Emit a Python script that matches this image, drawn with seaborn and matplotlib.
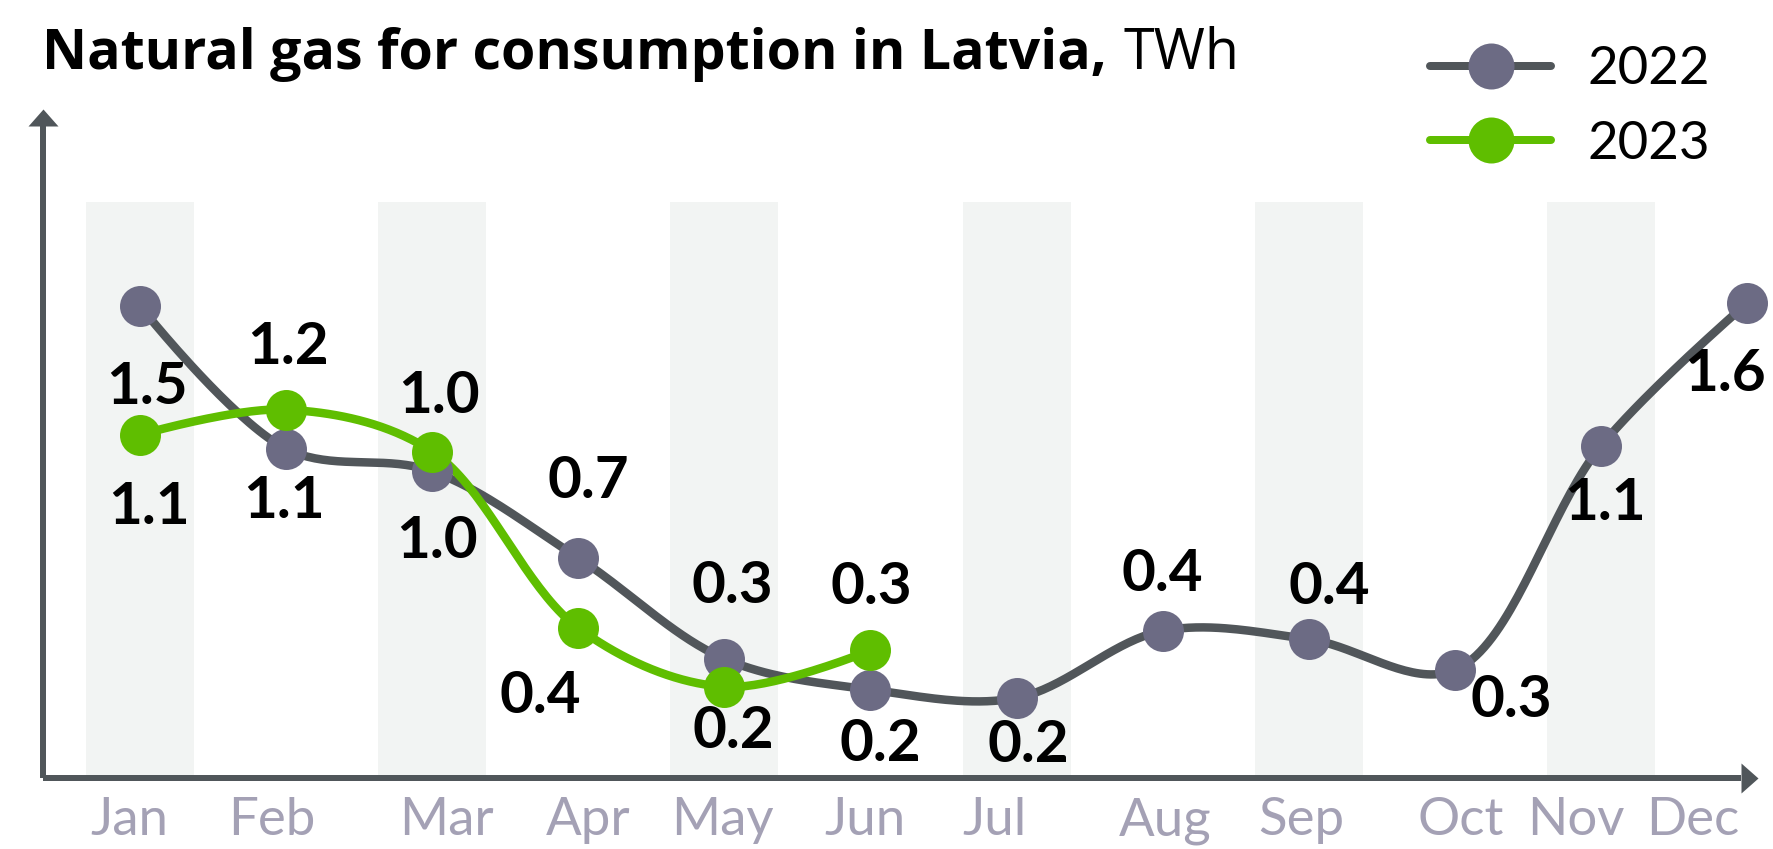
import numpy as np
import pandas as pd
import matplotlib
matplotlib.use("Agg")
import matplotlib.pyplot as plt
import seaborn as sns
from matplotlib.lines import Line2D

# datos
months = ["Jan", "Feb", "Mar", "Apr", "May", "Jun",
          "Jul", "Aug", "Sep", "Oct", "Nov", "Dec"]
gas_2022 = [1.60, 1.09, 1.01, 0.70, 0.34, 0.23, 0.20, 0.44, 0.41, 0.30, 1.10, 1.61]
gas_2023 = [1.14, 1.23, 1.08, 0.45, 0.24, 0.37]
labels_2022 = ["1.5", "1.1", "1.0", "0.7", "0.3", "0.2", "0.2", "0.4", "0.4", "0.3", "1.1", "1.6"]
labels_2023 = ["1.1", "1.2", "1.0", "0.4", "0.2", "0.3"]

# estilo
GRAY_LINE = "#51565a"
GRAY_DOT = "#6c6b84"
GREEN = "#5fbe00"
BAND = "#f2f4f3"
AXIS = "#50565a"
TICK = "#a4a1b5"
PX = 72 / 100  # px -> pt

sns.set_theme(style="white")
plt.rcParams["font.family"] = ["Lato", "DejaVu Sans"]

# posiciones de etiquetas (px, dy hacia abajo)
off_2022 = [(7, 81), (-2, 53), (5, 70), (10, -77), (8, -72), (10, 55),
            (12, 47), (0, -56), (20, -52), (56, 30), (4, 57), (-22, 71)]
off_2023 = [(9, 73), (2, -62), (7, -55), (-38, 68), (9, 45), (1, -63)]
tick_shift = [-0.07, -0.1, 0.1, 0.07, -0.01, -0.04, -0.15, 0.02, -0.05, 0.04, -0.17, -0.37]


def catmull_rom(ax, y, alpha=0.5, n=40):
    """Catmull-Rom centripeta (como d3) calculada en pixeles."""
    pts = ax.transData.transform(np.column_stack([np.arange(len(y)), y]))
    pts = np.vstack([pts[0], pts, pts[-1]])
    t = np.linspace(0, 1, n)[:, None]
    out = []
    for i in range(1, len(pts) - 2):
        p0, p1, p2, p3 = pts[i - 1], pts[i], pts[i + 1], pts[i + 2]
        d01 = np.hypot(*(p1 - p0))
        d12 = np.hypot(*(p2 - p1))
        d23 = np.hypot(*(p3 - p2))
        l01a, l12a, l23a = d01**alpha, d12**alpha, d23**alpha
        l01, l12, l23 = d01**(2 * alpha), d12**(2 * alpha), d23**(2 * alpha)
        c1 = p1.copy()
        if l01a > 1e-9:
            a = 2 * l01 + 3 * l01a * l12a + l12
            m = 3 * l01a * (l01a + l12a)
            c1 = (p1 * a - p0 * l12 + p2 * l01) / m
        c2 = p2.copy()
        if l23a > 1e-9:
            b = 2 * l23 + 3 * l23a * l12a + l12
            m = 3 * l23a * (l23a + l12a)
            c2 = (p2 * b + p1 * l23 - p3 * l12) / m
        seg = ((1 - t)**3) * p1 + 3 * ((1 - t)**2) * t * c1 + 3 * (1 - t) * t**2 * c2 + t**3 * p2
        out.append(seg)
    out = ax.transData.inverted().transform(np.vstack(out))
    return out[:, 0], out[:, 1]


W, H = 1773, 849
fig = plt.figure(figsize=(W / 100, H / 100), dpi=100)
ax = fig.add_axes([43 / W, (H - 778) / H, (1758 - 43) / W, (778 - 110) / H])
ax.set_xlim(-0.664, 11.075)
ax.set_ylim(-0.0857, 2.3)
for s in ax.spines.values():
    s.set_visible(False)

# bandas
for i in range(0, 12, 2):
    ax.axvspan(i - 0.37, i + 0.37, ymin=0, ymax=(1.971 + 0.0857) / 2.3857,
               color=BAND, lw=0, zorder=0)

# ejes con flecha
ax.plot([0, 0], [0, 1 - 16 / 668], color=AXIS, lw=6 * PX,
        transform=ax.transAxes, clip_on=False, solid_capstyle="butt", zorder=1)
ax.plot([0, 1 - 17 / 1715], [0, 0], color=AXIS, lw=6 * PX,
        transform=ax.transAxes, clip_on=False, solid_capstyle="butt", zorder=1)
ax.plot(0, 1 - 16 / 668, marker=[(-15, 0), (15, 0), (0, 17), (-15, 0)], ms=34 * PX,
        color=AXIS, mew=0, transform=ax.transAxes, clip_on=False)
ax.plot(1 - 17 / 1715, 0, marker=[(0, -15), (0, 15), (17, 0), (0, -15)], ms=34 * PX,
        color=AXIS, mew=0, transform=ax.transAxes, clip_on=False)

# lineas suavizadas
x22, y22 = catmull_rom(ax, gas_2022)
x23, y23 = catmull_rom(ax, gas_2023)
sns.lineplot(x=x22, y=y22, sort=False, estimator=None, color=GRAY_LINE,
             lw=8.5 * PX, ax=ax, zorder=2)
sns.lineplot(x=x23, y=y23, sort=False, estimator=None, color=GREEN,
             lw=8.5 * PX, ax=ax, zorder=3)

df22 = pd.DataFrame({"mes": np.arange(len(gas_2022)), "twh": gas_2022})
df23 = pd.DataFrame({"mes": np.arange(len(gas_2023)), "twh": gas_2023})
sns.scatterplot(data=df22, x="mes", y="twh", color=GRAY_DOT, s=(41 * PX) ** 2,
                linewidth=0, ax=ax, zorder=4)
sns.scatterplot(data=df23, x="mes", y="twh", color=GREEN, s=(41 * PX) ** 2,
                linewidth=0, ax=ax, zorder=5)
for coll in ax.collections:
    coll.set_clip_on(False)
for ln in ax.lines:
    ln.set_clip_on(False)

# etiquetas de valores
for serie, labs, offs in [(gas_2022, labels_2022, off_2022), (gas_2023, labels_2023, off_2023)]:
    for i, (v, lab, (dx, dy)) in enumerate(zip(serie, labs, offs)):
        ax.annotate(lab, (i, v), xytext=(dx * PX, -dy * PX), textcoords="offset points",
                    ha="center", va="center", fontsize=42, fontweight="bold",
                    color="black", zorder=6)

ax.set_xticks(np.arange(12) + np.array(tick_shift))
ax.set_xticklabels(months, fontsize=38, color=TICK, fontweight="normal")
ax.tick_params(axis="x", length=0, pad=14)
ax.set_yticks([])
ax.set_xlabel("")
ax.set_ylabel("")

# leyenda
handles = [
    Line2D([0], [0], color=GRAY_LINE, lw=8 * PX, marker="o", ms=46 * PX,
           markerfacecolor=GRAY_DOT, markeredgewidth=0),
    Line2D([0], [0], color=GREEN, lw=8 * PX, marker="o", ms=46 * PX,
           markerfacecolor=GREEN, markeredgewidth=0),
]
leg = ax.legend(handles, ["2022", "2023"], loc="upper left",
                bbox_to_anchor=(1430 / W, 1 - 46 / H), bbox_transform=fig.transFigure,
                frameon=False, fontsize=38, handlelength=2.3, handletextpad=0.68,
                labelspacing=0.53, borderpad=0, borderaxespad=0)
for txt in leg.get_texts():
    txt.set_color("black")

# titulo
t = fig.text(42 / W, 1 - 69 / H, "Natural gas for consumption in Latvia,",
             fontsize=40, fontweight="bold", va="baseline", ha="left",
             family=["Open Sans", "DejaVu Sans"], color="black")
fig.canvas.draw()
bb = t.get_window_extent()
fig.text((bb.x1 + 17) / W, 1 - 69 / H, "TWh", fontsize=40, va="baseline", ha="left",
         family=["Open Sans", "DejaVu Sans"], color="black")

fig.savefig("out.png", dpi=100)
